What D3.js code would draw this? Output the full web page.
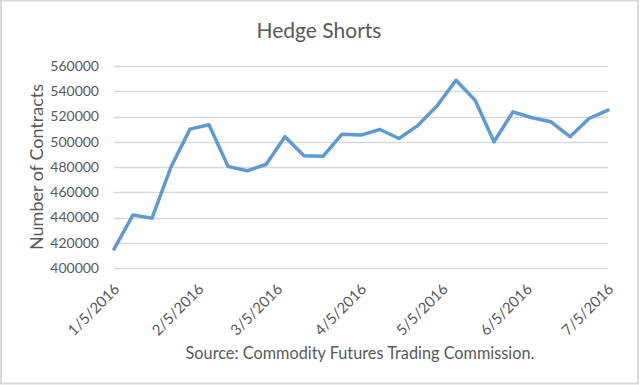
<!DOCTYPE html>
<html>
<head>
<meta charset="utf-8">
<script src="https://cdn.jsdelivr.net/npm/d3@7"></script>
<style>
  body { margin: 0; background: #fff; }
  text { font-family: Lato, "Open Sans", sans-serif; fill: #595959; }
</style>
</head>
<body>
<svg id="chart" width="640" height="385"></svg>
<script>
// weekly report dates (Tuesdays), 1/5/2016 .. 7/5/2016
const dates = [
  "2016-01-05", "2016-01-12", "2016-01-19", "2016-01-26",
  "2016-02-02", "2016-02-09", "2016-02-16", "2016-02-23",
  "2016-03-01", "2016-03-08", "2016-03-15", "2016-03-22", "2016-03-29",
  "2016-04-05", "2016-04-12", "2016-04-19", "2016-04-26",
  "2016-05-03", "2016-05-10", "2016-05-17", "2016-05-24", "2016-05-31",
  "2016-06-07", "2016-06-14", "2016-06-21", "2016-06-28",
  "2016-07-05"
];
const shorts = [
  415000, 442000, 439500, 480000,
  510000, 513500, 480500, 477000,
  482000, 504000, 489000, 488500, 506000,
  505300, 509700, 502600, 513000,
  528400, 548700, 533000, 500000, 523700,
  519000, 515800, 504000, 518400,
  525000
];
const yTicks = [400000, 420000, 440000, 460000, 480000, 500000, 520000, 540000, 560000];
const xTicks = ["2016-01-05", "2016-02-05", "2016-03-05", "2016-04-05", "2016-05-05", "2016-06-05", "2016-07-05"];

const parse = d3.timeParse("%Y-%m-%d");
const fmt = d3.timeFormat("%-m/%-d/%Y");
const data = dates.map((d, i) => ({ date: parse(d), value: shorts[i] }));

const svg = d3.select("#chart");
const width = 640, height = 385;
const margin = { top: 66, right: 32, bottom: 117, left: 114 };

// chart border
svg.append("rect")
    .attr("x", 1).attr("y", 0.5)
    .attr("width", width - 3).attr("height", height - 2)
    .attr("fill", "#fff")
    .attr("stroke", "#d9d9d9")
    .attr("stroke-width", 2);

const x = d3.scaleTime()
    .domain([parse(xTicks[0]), parse(xTicks[xTicks.length - 1])])
    .range([margin.left, width - margin.right]);

const y = d3.scaleLinear()
    .domain([400000, 560000])
    .range([height - margin.bottom, margin.top]);

// gridlines
svg.append("g")
    .selectAll("line")
    .data(yTicks)
    .enter()
    .append("line")
    .attr("x1", x.range()[0])
    .attr("x2", x.range()[1])
    .attr("y1", d => Math.round(y(d)) + 0.5)
    .attr("y2", d => Math.round(y(d)) + 0.5)
    .attr("stroke", "#d9d9d9")
    .attr("stroke-width", 1.3);

// y axis labels
const yAxis = svg.append("g")
    .attr("transform", `translate(${margin.left}, 0)`)
    .call(d3.axisLeft(y).tickValues(yTicks).tickSize(0).tickPadding(15).tickFormat(d3.format("d")));
yAxis.select(".domain").remove();
yAxis.selectAll("text")
    .attr("fill", "#595959")
    .style("font-size", "14px")
    .style("font-family", "Lato");

// x axis labels (rotated)
const xAxis = svg.append("g")
    .attr("transform", `translate(0, ${height - margin.bottom})`)
    .call(d3.axisBottom(x).tickValues(xTicks.map(parse)).tickSize(0).tickFormat(fmt));
xAxis.select(".domain").remove();
xAxis.selectAll("text")
    .attr("fill", "#595959")
    .style("font-size", "15px")
    .style("font-family", "Lato")
    .attr("text-anchor", "end")
    .attr("dy", null)
    .attr("y", 0)
    .attr("transform", "translate(6, 22) rotate(-45)");

// line
svg.append("path")
    .datum(data)
    .attr("fill", "none")
    .attr("stroke", "#5b9bd5")
    .attr("stroke-width", 3.5)
    .attr("stroke-linejoin", "round")
    .attr("stroke-linecap", "round")
    .attr("d", d3.line().x(d => x(d.date)).y(d => y(d.value)));

// title
svg.append("text")
    .attr("x", 319)
    .attr("y", 38)
    .attr("text-anchor", "middle")
    .style("font-size", "21px")
    .text("Hedge Shorts");

// y axis title
svg.append("text")
    .attr("transform", `translate(43, ${(y.range()[0] + y.range()[1]) / 2}) rotate(-90)`)
    .attr("text-anchor", "middle")
    .style("font-size", "18px")
    .text("Number of Contracts");

// source note
svg.append("text")
    .attr("x", 360)
    .attr("y", 359)
    .attr("text-anchor", "middle")
    .style("font-size", "16.3px")
    .text("Source: Commodity Futures Trading Commission.");
</script>
</body>
</html>
